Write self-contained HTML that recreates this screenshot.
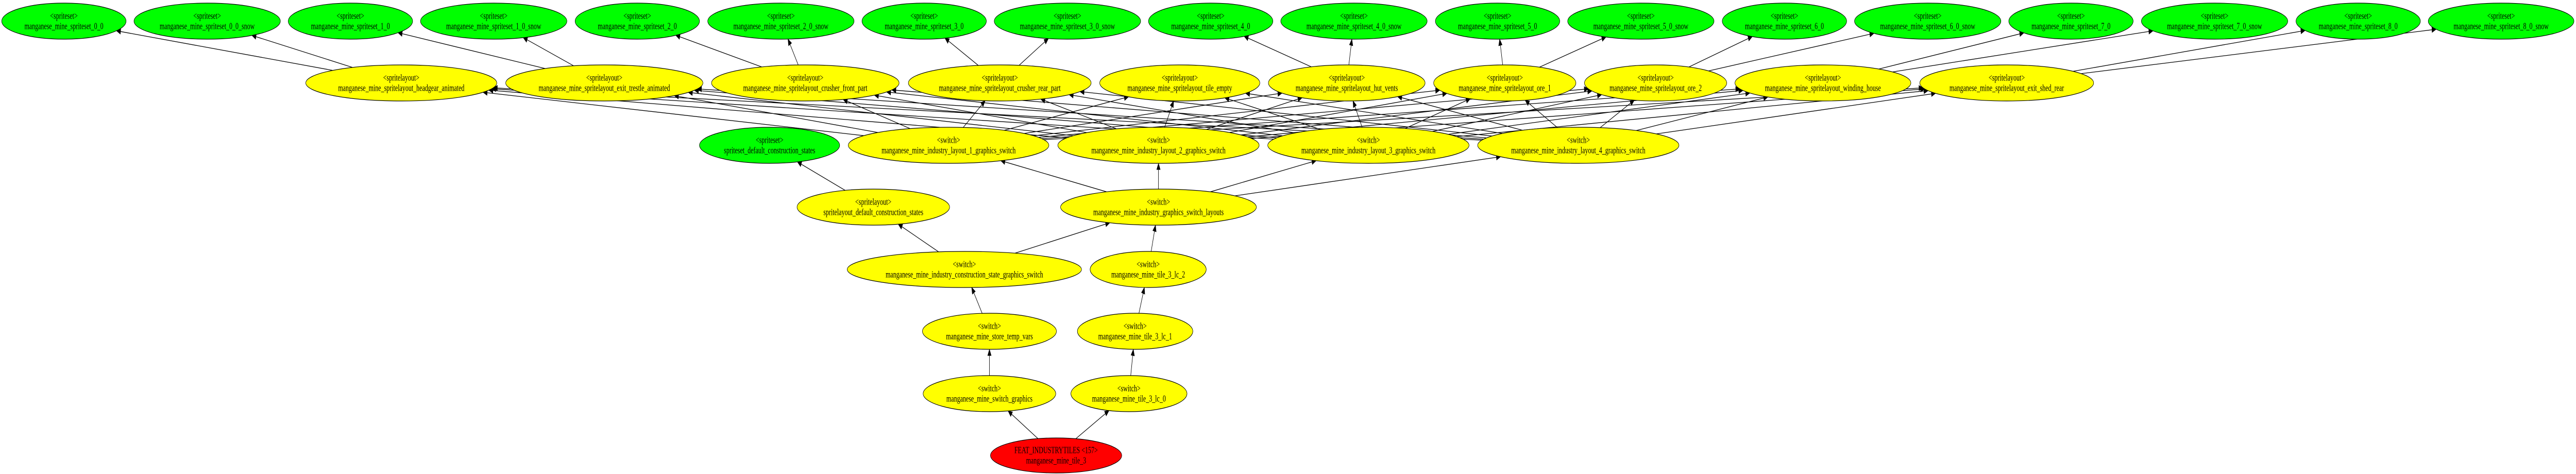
<!DOCTYPE html>
<html><head><meta charset="utf-8"><style>
html,body{margin:0;padding:0;background:#fff;width:100%;height:100%;overflow:hidden;}
svg{display:block;width:100vw;height:100vh;}
text{font-family:"Liberation Serif",serif;font-size:18px;fill:#000;text-anchor:middle;dominant-baseline:central;}
ellipse{stroke:#000;stroke-width:1.2;}
.g{fill:#00ff00}.y{fill:#ffff00}.r{fill:#ff0000}
</style></head><body>
<svg id="s" viewBox="0 0 7498 920" preserveAspectRatio="none" xmlns="http://www.w3.org/2000/svg">
<g id="edges" stroke="#000" stroke-width="1.3" fill="none"></g>
<g id="heads" fill="#000"></g>
<g id="nodes">
<g id="s00"><ellipse class="g" cx="186" cy="41" rx="181" ry="35"/><text x="186" y="31">&lt;spriteset&gt;</text><text x="186" y="51">manganese_mine_spriteset_0_0</text></g>
<g id="s00s"><ellipse class="g" cx="603" cy="41" rx="213" ry="35"/><text x="603" y="31">&lt;spriteset&gt;</text><text x="603" y="51">manganese_mine_spriteset_0_0_snow</text></g>
<g id="s10"><ellipse class="g" cx="1020" cy="41" rx="181" ry="35"/><text x="1020" y="31">&lt;spriteset&gt;</text><text x="1020" y="51">manganese_mine_spriteset_1_0</text></g>
<g id="s10s"><ellipse class="g" cx="1437" cy="41" rx="213" ry="35"/><text x="1437" y="31">&lt;spriteset&gt;</text><text x="1437" y="51">manganese_mine_spriteset_1_0_snow</text></g>
<g id="s20"><ellipse class="g" cx="1855" cy="41" rx="181" ry="35"/><text x="1855" y="31">&lt;spriteset&gt;</text><text x="1855" y="51">manganese_mine_spriteset_2_0</text></g>
<g id="s20s"><ellipse class="g" cx="2273" cy="41" rx="213" ry="35"/><text x="2273" y="31">&lt;spriteset&gt;</text><text x="2273" y="51">manganese_mine_spriteset_2_0_snow</text></g>
<g id="s30"><ellipse class="g" cx="2690" cy="41" rx="181" ry="35"/><text x="2690" y="31">&lt;spriteset&gt;</text><text x="2690" y="51">manganese_mine_spriteset_3_0</text></g>
<g id="s30s"><ellipse class="g" cx="3107" cy="41" rx="213" ry="35"/><text x="3107" y="31">&lt;spriteset&gt;</text><text x="3107" y="51">manganese_mine_spriteset_3_0_snow</text></g>
<g id="s40"><ellipse class="g" cx="3524" cy="41" rx="181" ry="35"/><text x="3524" y="31">&lt;spriteset&gt;</text><text x="3524" y="51">manganese_mine_spriteset_4_0</text></g>
<g id="s40s"><ellipse class="g" cx="3941" cy="41" rx="213" ry="35"/><text x="3941" y="31">&lt;spriteset&gt;</text><text x="3941" y="51">manganese_mine_spriteset_4_0_snow</text></g>
<g id="s50"><ellipse class="g" cx="4359" cy="41" rx="181" ry="35"/><text x="4359" y="31">&lt;spriteset&gt;</text><text x="4359" y="51">manganese_mine_spriteset_5_0</text></g>
<g id="s50s"><ellipse class="g" cx="4776" cy="41" rx="213" ry="35"/><text x="4776" y="31">&lt;spriteset&gt;</text><text x="4776" y="51">manganese_mine_spriteset_5_0_snow</text></g>
<g id="s60"><ellipse class="g" cx="5194" cy="41" rx="181" ry="35"/><text x="5194" y="31">&lt;spriteset&gt;</text><text x="5194" y="51">manganese_mine_spriteset_6_0</text></g>
<g id="s60s"><ellipse class="g" cx="5611" cy="41" rx="213" ry="35"/><text x="5611" y="31">&lt;spriteset&gt;</text><text x="5611" y="51">manganese_mine_spriteset_6_0_snow</text></g>
<g id="s70"><ellipse class="g" cx="6028" cy="41" rx="181" ry="35"/><text x="6028" y="31">&lt;spriteset&gt;</text><text x="6028" y="51">manganese_mine_spriteset_7_0</text></g>
<g id="s70s"><ellipse class="g" cx="6446" cy="41" rx="213" ry="35"/><text x="6446" y="31">&lt;spriteset&gt;</text><text x="6446" y="51">manganese_mine_spriteset_7_0_snow</text></g>
<g id="s80"><ellipse class="g" cx="6864" cy="41" rx="181" ry="35"/><text x="6864" y="31">&lt;spriteset&gt;</text><text x="6864" y="51">manganese_mine_spriteset_8_0</text></g>
<g id="s80s"><ellipse class="g" cx="7280" cy="41" rx="212" ry="35"/><text x="7280" y="31">&lt;spriteset&gt;</text><text x="7280" y="51">manganese_mine_spriteset_8_0_snow</text></g>

<g id="lhead"><ellipse class="y" cx="1168" cy="161" rx="278" ry="35"/><text x="1168" y="151">&lt;spritelayout&gt;</text><text x="1168" y="171">manganese_mine_spritelayout_headgear_animated</text></g>
<g id="ltres"><ellipse class="y" cx="1759" cy="161" rx="287" ry="35"/><text x="1759" y="151">&lt;spritelayout&gt;</text><text x="1759" y="171">manganese_mine_spritelayout_exit_trestle_animated</text></g>
<g id="lcf"><ellipse class="y" cx="2344" cy="161" rx="273" ry="35"/><text x="2344" y="151">&lt;spritelayout&gt;</text><text x="2344" y="171">manganese_mine_spritelayout_crusher_front_part</text></g>
<g id="lcr"><ellipse class="y" cx="2910" cy="161" rx="266" ry="35"/><text x="2910" y="151">&lt;spritelayout&gt;</text><text x="2910" y="171">manganese_mine_spritelayout_crusher_rear_part</text></g>
<g id="lte"><ellipse class="y" cx="3434" cy="161" rx="233" ry="35"/><text x="3434" y="151">&lt;spritelayout&gt;</text><text x="3434" y="171">manganese_mine_spritelayout_tile_empty</text></g>
<g id="lhut"><ellipse class="y" cx="3920" cy="161" rx="228" ry="35"/><text x="3920" y="151">&lt;spritelayout&gt;</text><text x="3920" y="171">manganese_mine_spritelayout_hut_vents</text></g>
<g id="lo1"><ellipse class="y" cx="4380" cy="161" rx="207" ry="35"/><text x="4380" y="151">&lt;spritelayout&gt;</text><text x="4380" y="171">manganese_mine_spritelayout_ore_1</text></g>
<g id="lo2"><ellipse class="y" cx="4819" cy="161" rx="207" ry="35"/><text x="4819" y="151">&lt;spritelayout&gt;</text><text x="4819" y="171">manganese_mine_spritelayout_ore_2</text></g>
<g id="lwh"><ellipse class="y" cx="5306" cy="161" rx="256" ry="35"/><text x="5306" y="151">&lt;spritelayout&gt;</text><text x="5306" y="171">manganese_mine_spritelayout_winding_house</text></g>
<g id="les"><ellipse class="y" cx="5841" cy="161" rx="253" ry="35"/><text x="5841" y="151">&lt;spritelayout&gt;</text><text x="5841" y="171">manganese_mine_spritelayout_exit_shed_rear</text></g>

<g id="sdc"><ellipse class="g" cx="2240" cy="282" rx="204" ry="35"/><text x="2240" y="272">&lt;spriteset&gt;</text><text x="2240" y="292">spriteset_default_construction_states</text></g>
<g id="w1"><ellipse class="y" cx="2761" cy="282" rx="292" ry="35"/><text x="2761" y="272">&lt;switch&gt;</text><text x="2761" y="292">manganese_mine_industry_layout_1_graphics_switch</text></g>
<g id="w2"><ellipse class="y" cx="3372" cy="282" rx="293" ry="35"/><text x="3372" y="272">&lt;switch&gt;</text><text x="3372" y="292">manganese_mine_industry_layout_2_graphics_switch</text></g>
<g id="w3"><ellipse class="y" cx="3983" cy="282" rx="293" ry="35"/><text x="3983" y="272">&lt;switch&gt;</text><text x="3983" y="292">manganese_mine_industry_layout_3_graphics_switch</text></g>
<g id="w4"><ellipse class="y" cx="4594" cy="282" rx="293" ry="35"/><text x="4594" y="272">&lt;switch&gt;</text><text x="4594" y="292">manganese_mine_industry_layout_4_graphics_switch</text></g>

<g id="ldc"><ellipse class="y" cx="2542" cy="402" rx="222" ry="35"/><text x="2542" y="392">&lt;spritelayout&gt;</text><text x="2542" y="412">spritelayout_default_construction_states</text></g>
<g id="wgl"><ellipse class="y" cx="3372" cy="402" rx="285" ry="35"/><text x="3372" y="392">&lt;switch&gt;</text><text x="3372" y="412">manganese_mine_industry_graphics_switch_layouts</text></g>

<g id="wcs"><ellipse class="y" cx="2807" cy="523" rx="341" ry="35"/><text x="2807" y="513">&lt;switch&gt;</text><text x="2807" y="533">manganese_mine_industry_construction_state_graphics_switch</text></g>
<g id="lc2"><ellipse class="y" cx="3342" cy="523" rx="169" ry="35"/><text x="3342" y="513">&lt;switch&gt;</text><text x="3342" y="533">manganese_mine_tile_3_lc_2</text></g>

<g id="wst"><ellipse class="y" cx="2880" cy="643" rx="195" ry="35"/><text x="2880" y="633">&lt;switch&gt;</text><text x="2880" y="653">manganese_mine_store_temp_vars</text></g>
<g id="lc1"><ellipse class="y" cx="3304" cy="643" rx="168" ry="35"/><text x="3304" y="633">&lt;switch&gt;</text><text x="3304" y="653">manganese_mine_tile_3_lc_1</text></g>

<g id="wsg"><ellipse class="y" cx="2880" cy="764" rx="193" ry="35"/><text x="2880" y="754">&lt;switch&gt;</text><text x="2880" y="774">manganese_mine_switch_graphics</text></g>
<g id="lc0"><ellipse class="y" cx="3286" cy="764" rx="169" ry="35"/><text x="3286" y="754">&lt;switch&gt;</text><text x="3286" y="774">manganese_mine_tile_3_lc_0</text></g>

<g id="red"><ellipse class="r" cx="3074" cy="884" rx="191" ry="34"/><text x="3074" y="874">FEAT_INDUSTRYTILES &lt;157&gt;</text><text x="3074" y="894">manganese_mine_tile_3</text></g>
</g>
</svg>
<script>
(function(){
var E=[["lhead","s00"],["lhead","s00s"],["ltres","s10"],["ltres","s10s"],["lcf","s20"],["lcf","s20s"],["lcr","s30"],["lcr","s30s"],["lhut","s40"],["lhut","s40s"],["lo1","s50"],["lo1","s50s"],["lo2","s60"],["lo2","s60s"],["lwh","s70"],["lwh","s70s"],["les","s80"],["les","s80s"],
["ldc","sdc"],["wcs","ldc"],["wcs","wgl"],["wgl","w1"],["wgl","w2"],["wgl","w3"],["wgl","w4"],["wst","wcs"],["wsg","wst"],["red","wsg"],["red","lc0"],["lc0","lc1"],["lc1","lc2"],["lc2","wgl"]];
var L=["lhead","ltres","lcf","lcr","lte","lhut","lo1","lo2","lwh","les"];
["w1","w2","w3","w4"].forEach(function(w){L.forEach(function(l){E.push([w,l]);});});
function g(id){var e=document.querySelector("#"+id+" ellipse");return {x:+e.getAttribute("cx"),y:+e.getAttribute("cy"),rx:+e.getAttribute("rx"),ry:+e.getAttribute("ry")};}
function bp(n,dx,dy){var t=1/Math.sqrt(dx*dx/(n.rx*n.rx)+dy*dy/(n.ry*n.ry));return [n.x+dx*t,n.y+dy*t];}
var eg=document.getElementById("edges"),hg=document.getElementById("heads"),ns="http://www.w3.org/2000/svg",pe="",ph="";
E.forEach(function(p){var a=g(p[0]),b=g(p[1]);var dx=b.x-a.x,dy=b.y-a.y;var s=bp(a,dx,dy),t=bp(b,-dx,-dy);
var vx=t[0]-s[0],vy=t[1]-s[1],len=Math.sqrt(vx*vx+vy*vy),ux=vx/len,uy=vy/len;var hl=12,hw=5;
var bx=t[0]-ux*hl,by=t[1]-uy*hl;
pe+="M"+s[0].toFixed(1)+","+s[1].toFixed(1)+"L"+bx.toFixed(1)+","+by.toFixed(1);
ph+="M"+t[0].toFixed(1)+","+t[1].toFixed(1)+"L"+(bx-uy*hw).toFixed(1)+","+(by+ux*hw).toFixed(1)+"L"+(bx+uy*hw).toFixed(1)+","+(by-ux*hw).toFixed(1)+"Z";});
var p1=document.createElementNS(ns,"path");p1.setAttribute("d",pe);eg.appendChild(p1);
var p2=document.createElementNS(ns,"path");p2.setAttribute("d",ph);p2.setAttribute("stroke","#000");p2.setAttribute("stroke-width","1");hg.appendChild(p2);
})();
</script>
</body></html>
